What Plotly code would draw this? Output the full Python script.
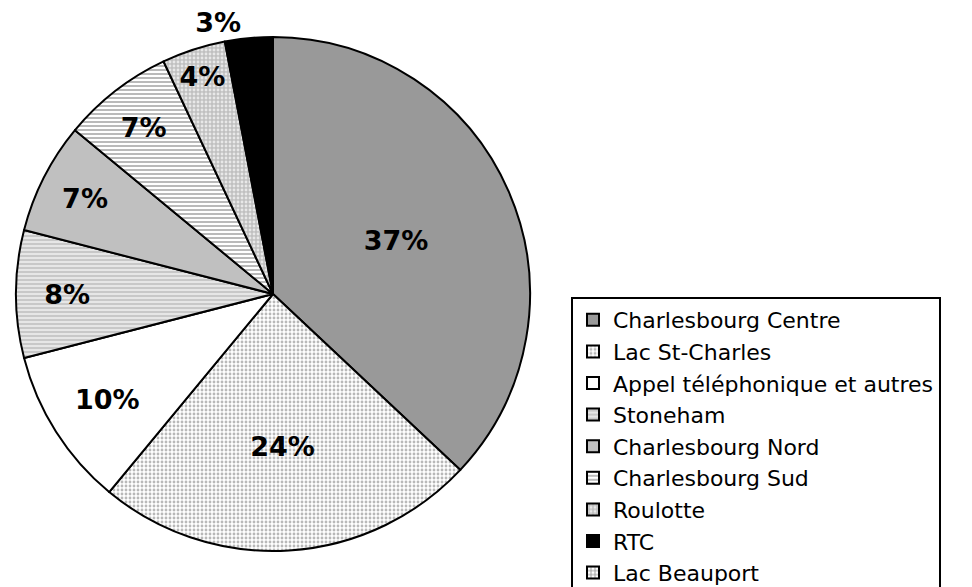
import plotly.graph_objects as go

labels = ["Charlesbourg Centre", "Lac St-Charles", "Appel téléphonique et autres",
          "Stoneham", "Charlesbourg Nord", "Charlesbourg Sud", "Roulotte", "RTC", "Lac Beauport"]
values = [37, 24, 10, 8, 7, 7, 4, 3, 0]

bg_colors = ["#999999", "#ffffff", "#ffffff", "#c8c8c8", "#c0c0c0", "#ffffff", "#c0c0c0", "#000000", "#ffffff"]
pat_shapes = ["", ".", "", "-", "", "-", ".", "", "+"]
pat_fg = ["#999999", "#b8b8b8", "#ffffff", "#eeeeee", "#c0c0c0", "#a8a8a8", "#e8e8e8", "#000000", "#999999"]
text_pos = ["inside"] * 7 + ["outside", "inside"]

W, H = 972, 587
fig = go.Figure(go.Pie(
    labels=labels, values=values, sort=False, direction="clockwise", rotation=0,
    marker=dict(colors=bg_colors,
                line=dict(color="#000000", width=2),
                pattern=dict(shape=pat_shapes, fgcolor=pat_fg, bgcolor=bg_colors,
                             size=4, solidity=0.4, fillmode="replace")),
    texttemplate="%{percent:.0%}", textposition=text_pos,
    insidetextorientation="horizontal",
    textfont=dict(family="DejaVu Sans", size=27, color="#000000", weight="bold"),
    domain=dict(x=[8 / W, 522 / W], y=[(H - 543) / H, (H - 29) / H]),
    showlegend=True,
))

fig.update_layout(
    width=W, height=H,
    margin=dict(l=0, r=0, t=0, b=0, autoexpand=False),
    paper_bgcolor="#ffffff", plot_bgcolor="#ffffff",
    font=dict(family="DejaVu Sans", color="#000000"),
    legend=dict(x=563 / W, y=1 - 289 / H, xanchor="left", yanchor="top",
                bordercolor="#000000", borderwidth=2, bgcolor="#ffffff",
                font=dict(family="DejaVu Sans", size=22, color="#000000"),
                itemwidth=30, traceorder="normal"),
)

fig.write_html("out.html")
